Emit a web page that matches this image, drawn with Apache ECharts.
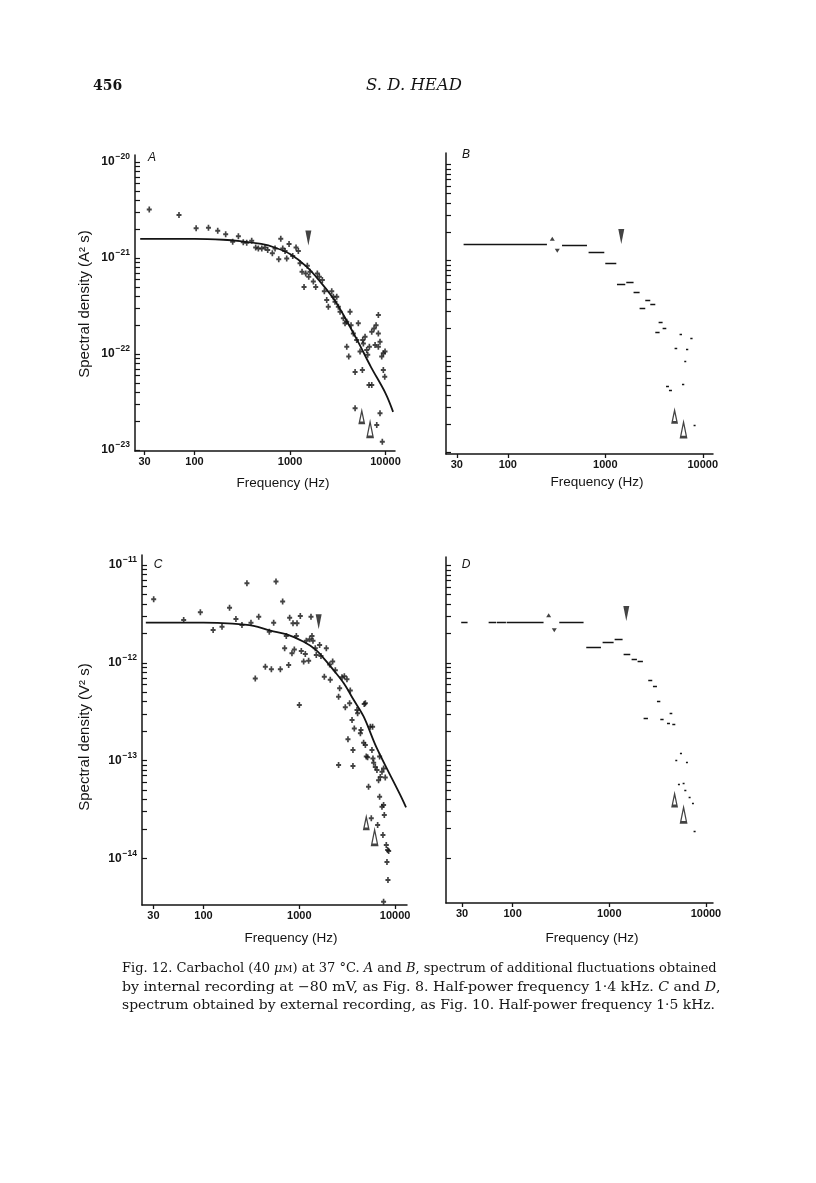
<!DOCTYPE html>
<html><head><meta charset="utf-8">
<script src="https://cdn.jsdelivr.net/npm/echarts@6/dist/echarts.min.js"></script>
<style>html,body{margin:0;padding:0;background:#fff}#c{width:816px;height:1183px}</style>
</head><body><div id="c"></div>
<script>
// ---------- tick / label values ----------
const xTickFreqs = [30, 100, 1000, 10000];
const yDecadesAB = [1e-23, 1e-22, 1e-21, 1e-20];
const yDecadesCD = [1e-14, 1e-13, 1e-12, 1e-11];
const minorMultipliers = [2, 3, 4, 5, 6, 7, 8, 9];

// ---------- Panel A (internal recording, A^2 s) ----------
const A_points = [
[33.6,3.21e-21],[68.8,2.81e-21],[104,2.04e-21],[140,2.07e-21],[175,1.92e-21],[212,1.77e-21],[288,1.69e-21],[251,1.48e-21],
[324,1.46e-21],[352,1.44e-21],[397,1.51e-21],[437,1.29e-21],[466,1.26e-21],[506,1.26e-21],[547,1.29e-21],[584,1.21e-21],
[653,1.12e-21],[697,1.26e-21],[762,9.7e-22],[800,1.59e-21],[839,1.26e-21],[887,1.18e-21],[923,9.9e-22],[977,1.40e-21],
[1067,1.05e-21],[1156,1.29e-21],[1222,1.18e-21],[1273,8.8e-22],[1336,7.2e-22],[1402,5.0e-22],[1460,6.9e-22],[1517,8.3e-22],
[1570,6.4e-22],[1619,7.2e-22],[1754,5.7e-22],[1858,5.0e-22],[1932,6.9e-22],[2028,6.4e-22],[2179,5.9e-22],[2287,4.5e-22],
[2422,3.65e-22],[2517,3.11e-22],[2733,4.5e-22],[2840,3.95e-22],[2958,3.5e-22],[3083,3.95e-22],[3205,3.11e-22],[3340,2.76e-22],
[3617,2.36e-22],[3767,2.09e-22],[3926,2.17e-22],[4249,2.76e-22],[4354,2.0e-22],[4603,1.64e-22],[4990,1.40e-22],[5188,2.09e-22],
[5408,1.06e-22],[5771,1.40e-22],[6102,1.51e-22],[6350,1.10e-22],[6510,9.8e-23],[6770,1.19e-22],[7170,1.71e-22],[7580,1.85e-22],
[7960,2.0e-22],[8410,2.55e-22],[7770,1.24e-22],[8410,1.19e-22],[8750,1.34e-22],[9120,9.4e-23],[9480,1.02e-22],[9880,1.06e-22],
[5720,6.8e-23],[4800,6.5e-23],[4800,2.72e-23],[6710,4.75e-23],[7170,4.75e-23],[9480,6.8e-23],[9810,5.8e-23],[8750,2.41e-23],
[8090,1.82e-23],[9250,1.22e-23],[3926,1.19e-22],[4120,9.4e-23],[5860,1.29e-22],[8410,1.64e-22]
];
const A_fit = [[27,1.58e-21],[100,1.58e-21],[200,1.55e-21],[300,1.5e-21],[500,1.4e-21],[700,1.28e-21],[1000,1.1e-21],
[1500,8.1e-22],[2000,5.9e-22],[3000,3.5e-22],[5000,1.42e-22],[7000,7.4e-23],[10000,3.9e-23],[12000,2.5e-23]];
const A_halfPower = [[1556,1.62e-21]];
const A_openArrows = [[5640,2.22e-23],[6890,1.64e-23]];

// ---------- Panel B (binned spectrum: [f from, f to, density]) ----------
const B_segments = [
[35.2,252,1.47e-21],[360,649,1.46e-21],[674,977,1.23e-21],[1000,1297,9.3e-22],[1318,1604,5.75e-22],[1642,1950,5.94e-22],
[1950,2249,4.68e-22],[2571,2894,3.83e-22],[2894,3259,3.54e-22],[2249,2571,3.21e-22],[3524,3873,2.28e-22],[3873,4226,1.99e-22],
[3259,3606,1.79e-22],[5780,6120,1.72e-22],[7450,7860,1.57e-22],[5140,5470,1.23e-22],[6730,7100,1.20e-22],[6460,6770,8.9e-23],
[4200,4500,4.9e-23],[4500,4830,4.45e-23],[6120,6460,5.2e-23],[8050,8440,1.92e-23]
];
const B_smallUp = [[286,1.69e-21]];
const B_smallDown = [[322,1.27e-21]];
const B_halfPower = [[1459,1.79e-21]];
const B_openArrows = [[5140,2.39e-23],[6350,1.74e-23]];

// ---------- Panel C (external recording, V^2 s) ----------
const C_points = [
[30.2,4.46e-12],[62.1,2.74e-12],[92.7,3.28e-12],[126,2.16e-12],[156,2.34e-12],[187,3.66e-12],[218,2.81e-12],[252,2.43e-12],
[284,6.49e-12],[313,2.57e-12],[347,6.9e-13],[377,2.96e-12],[442,9.1e-13],[486,2.08e-12],[511,8.6e-13],[540,2.57e-12],
[571,6.76e-12],[634,8.6e-13],[670,4.22e-12],[703,1.41e-12],[731,1.88e-12],[774,9.5e-13],[793,2.89e-12],[838,1.25e-12],
[887,1.37e-12],[859,2.53e-12],[946,2.53e-12],[931,1.88e-12],[1000,3.7e-13],[1024,3.01e-12],[1049,1.32e-12],[1110,1.03e-12],
[1155,1.23e-12],[1183,1.68e-12],[1251,1.05e-12],[1282,1.74e-12],[1324,2.96e-12],[1356,1.88e-12],[1389,1.68e-12],[1469,1.41e-12],
[1504,1.2e-12],[1629,1.52e-12],[1683,1.17e-12],[1914,1.41e-12],[1824,7.2e-13],[2074,9.6e-13],[2229,1.03e-12],[2104,6.7e-13],
[2377,8.4e-13],[2789,7.1e-13],[2951,7.3e-13],[3143,6.8e-13],[2636,5.5e-13],[3404,5.2e-13],[2570,4.5e-13],[3020,3.5e-13],
[3350,3.85e-13],[4000,3.29e-13],[4060,3.04e-13],[4760,3.79e-13],[4890,3.85e-13],[3550,2.6e-13],[3750,2.13e-13],[4400,2.05e-13],
[5510,2.22e-13],[5820,2.22e-13],[4340,1.9e-13],[3220,1.65e-13],[4690,1.52e-13],[4890,1.44e-13],[3630,1.28e-13],[2570,9.0e-14],
[3630,8.8e-14],[5000,1.1e-13],[5160,1.08e-13],[5730,1.28e-13],[5870,1.05e-13],[5280,5.4e-14],[5970,9.5e-14],[6210,8.6e-14],
[6460,8.0e-14],[6720,6.3e-14],[6890,1.1e-13],[7000,6.8e-14],[7290,7.7e-14],[7580,8.3e-14],[7890,6.7e-14],[6570,2.19e-14],
[5640,2.57e-14],[6890,4.27e-14],[7290,3.37e-14],[7580,3.51e-14],[7710,2.77e-14],[7460,1.73e-14],[8090,1.37e-14],[8350,1.22e-14],
[8560,1.19e-14],[8220,9.2e-15],[8420,6.0e-15],[7580,3.6e-15]
];
const C_fit = [[25,2.57e-12],[100,2.57e-12],[200,2.51e-12],[333,2.38e-12],[500,2.13e-12],[740,1.95e-12],[1110,1.64e-12],
[1470,1.37e-12],[1800,1.11e-12],[2280,8.4e-13],[2900,6.2e-13],[3700,4.16e-13],[4700,2.81e-13],[6460,1.33e-13],
[11300,4.45e-14],[13000,3.32e-14]];
const C_halfPower = [[1592,2.63e-12]];
const C_openArrows = [[5000,2.31e-14],[6110,1.64e-14]];

// ---------- Panel D (binned spectrum: [f from, f to, density]) ----------
const D_segments = [
[29.4,34.2,2.61e-12],[56.5,67.8,2.63e-12],[68.8,85.3,2.63e-12],[86.7,209,2.63e-12],[304,542,2.63e-12],[578,820,1.44e-12],
[853,1109,1.64e-12],[1136,1373,1.74e-12],[1407,1649,1.24e-12],[1702,1932,1.08e-12],[1963,2228,1.05e-12],[2530,2784,6.6e-13],
[2830,3113,5.8e-13],[3113,3373,4.0e-13],[2265,2512,2.74e-13],[3373,3648,2.66e-13],[3953,4245,2.40e-13],[4487,4820,2.35e-13],
[4210,4487,3.04e-13],[5380,5650,1.20e-13],[4820,5050,9.97e-14],[6210,6510,9.6e-14],[5130,5380,5.7e-14],[5740,6010,5.9e-14],
[5970,6270,4.9e-14],[6620,6940,4.2e-14],[7170,7510,3.65e-14],[7450,7820,1.87e-14]
];
const D_smallUp = [[236,3.08e-12]];
const D_smallDown = [[270,2.16e-12]];
const D_halfPower = [[1500,3.21e-12]];
const D_openArrows = [[4740,3.94e-14],[5870,2.77e-14]];

// ---------- texts ----------
const pageNumber = '456';
const runningHead = 'S. D. HEAD';
const panelLetters = ['A', 'B', 'C', 'D'];
const xTitle = 'Frequency (Hz)';
const yTitleA = 'Spectral density (A² s)';
const yTitleC = 'Spectral density (V² s)';
const captionLines = [
  'Fig. 12. Carbachol (40 {i|μ}{sc|M}) at 37 °C. {i|A} and {i|B}, spectrum of additional fluctuations obtained',
  'by internal recording at \u221280 mV, as Fig. 8. Half-power frequency 1·4 kHz. {i|C} and {i|D},',
  'spectrum obtained by external recording, as Fig. 10. Half-power frequency 1·5 kHz.'
];

// ---------- build ----------
const L = Math.log10;
const INK = '#141414';
const SANS = 'Liberation Sans, Arial, Helvetica, sans-serif';
const SERIF = 'DejaVu Serif, serif';
const PLUS = 'path://M2,0H4V2H6V4H4V6H2V4H0V2H2Z';

const pts = arr => arr.map(p => [L(p[0]), L(p[1])]);
const segs = arr => arr.map(s => ({coords: [[L(s[0]), L(s[2])], [L(s[1]), L(s[2])]]}));
function ticksFrom(decades) {
  const t = [];
  decades.forEach((d, i) => {
    t.push(L(d));
    if (i < decades.length - 1) minorMultipliers.forEach(m => t.push(L(d * m)));
  });
  return t;
}

const panels = [
  {grid: {left: 135, top: 155, width: 260, height: 296}, x: [1.377, 4.099], y: [-23.01, -19.927], dec: yDecadesAB, labels: true},
  {grid: {left: 446, top: 153, width: 267, height: 301}, x: [1.366, 4.105], y: [-23.014, -19.878], dec: yDecadesAB, labels: false},
  {grid: {left: 142, top: 555, width: 265, height: 350}, x: [1.358, 4.124], y: [-14.477, -10.898], dec: yDecadesCD, labels: true},
  {grid: {left: 446, top: 557, width: 267, height: 346}, x: [1.311, 4.073], y: [-14.46, -10.915], dec: yDecadesCD, labels: false}
];

const grids = panels.map(p => Object.assign({containLabel: false}, p.grid));
const xAxes = panels.map((p, i) => ({
  type: 'value', gridIndex: i, min: p.x[0], max: p.x[1],
  axisLine: {onZero: false, lineStyle: {color: INK, width: 1.5}},
  axisTick: {customValues: xTickFreqs.map(L), length: 4, lineStyle: {color: INK, width: 1.3}},
  axisLabel: {customValues: xTickFreqs.map(L), formatter: v => String(Math.round(Math.pow(10, v))),
    color: INK, fontFamily: SANS, fontSize: 11, fontWeight: 'bold', margin: 5},
  splitLine: {show: false}
}));
const yAxes = panels.map((p, i) => ({
  type: 'value', gridIndex: i, min: p.y[0], max: p.y[1],
  axisLine: {onZero: false, lineStyle: {color: INK, width: 1.5}},
  axisTick: {inside: true, length: 5, customValues: ticksFrom(p.dec), lineStyle: {color: INK, width: 1.2}},
  axisLabel: {show: p.labels, customValues: p.dec.map(L), margin: 5,
    formatter: v => '{b|10}{s|\u2212' + Math.round(-v) + '}',
    rich: {
      b: {fontFamily: SANS, fontSize: 12, fontWeight: 'bold', color: INK},
      s: {fontFamily: SANS, fontSize: 8.5, fontWeight: 'bold', color: INK, padding: [0, 0, 10, 1]}
    }},
  splitLine: {show: false}
}));

const series = [];
function addPointPanel(i, points, fit, half, open) {
  series.push({type: 'scatter', xAxisIndex: i, yAxisIndex: i, data: pts(points), symbol: PLUS, symbolSize: [5, 6],
    itemStyle: {color: INK}, z: 3, silent: true});
  series.push({type: 'line', xAxisIndex: i, yAxisIndex: i, data: pts(fit), smooth: 0.35, symbol: 'none',
    lineStyle: {color: INK, width: 1.8}, z: 2, silent: true});
  addArrows(i, half, open);
}
function addArrows(i, half, open) {
  series.push({type: 'scatter', xAxisIndex: i, yAxisIndex: i, data: pts(half), symbol: 'triangle', symbolRotate: 180,
    symbolSize: [6, 15], itemStyle: {color: INK}, z: 4, silent: true});
  series.push({type: 'scatter', xAxisIndex: i, yAxisIndex: i, data: pts(open), symbol: 'triangle',
    symbolSize: (v, p) => p.dataIndex === 0 ? [5, 12] : [6, 15],
    itemStyle: {color: '#fff', borderColor: INK, borderWidth: 1.8}, z: 4, silent: true});
}
function addBinPanel(i, segments, up, down, half, open) {
  series.push({type: 'lines', coordinateSystem: 'cartesian2d', xAxisIndex: i, yAxisIndex: i, data: segs(segments),
    lineStyle: {color: INK, width: 1.4, opacity: 1}, z: 2, silent: true});
  series.push({type: 'scatter', xAxisIndex: i, yAxisIndex: i, data: pts(up), symbol: 'triangle', symbolSize: [5, 4],
    itemStyle: {color: INK}, z: 4, silent: true});
  series.push({type: 'scatter', xAxisIndex: i, yAxisIndex: i, data: pts(down), symbol: 'triangle', symbolRotate: 180,
    symbolSize: [5, 4], itemStyle: {color: INK}, z: 4, silent: true});
  addArrows(i, half, open);
}
addPointPanel(0, A_points, A_fit, A_halfPower, A_openArrows);
addBinPanel(1, B_segments, B_smallUp, B_smallDown, B_halfPower, B_openArrows);
addPointPanel(2, C_points, C_fit, C_halfPower, C_openArrows);
addBinPanel(3, D_segments, D_smallUp, D_smallDown, D_halfPower, D_openArrows);

function txt(x, y, text, font, align, extra) {
  return Object.assign({type: 'text', x: x, y: y, silent: true,
    style: {text: text, font: font, fill: INK, align: align || 'center', verticalAlign: 'middle',
      textAlign: align || 'center', textVerticalAlign: 'middle'}}, extra || {});
}
const TITLE_FONT = '13.5px ' + SANS;
const LETTER_FONT = 'italic 12px ' + SANS;
const CAP_SIZE = 13.1;
const graphic = [
  txt(93, 86, pageNumber, 'bold 14px ' + SERIF, 'left'),
  txt(414, 86, runningHead, 'italic 16.5px ' + SERIF, 'center'),
  txt(152, 158, panelLetters[0], LETTER_FONT),
  txt(466, 155, panelLetters[1], LETTER_FONT),
  txt(158, 565, panelLetters[2], LETTER_FONT),
  txt(466, 565, panelLetters[3], LETTER_FONT),
  txt(283, 483, xTitle, TITLE_FONT),
  txt(597, 482, xTitle, TITLE_FONT),
  txt(291, 938, xTitle, TITLE_FONT),
  txt(592, 938, xTitle, TITLE_FONT),
  txt(85, 304, yTitleA, '15px ' + SANS, 'center', {rotation: Math.PI / 2}),
  txt(85, 737, yTitleC, '15px ' + SANS, 'center', {rotation: Math.PI / 2})
];
// justified caption: stretch each line to the column width
const captionWidths = [598, 598, 593];
const measureCtx = document.createElement('canvas').getContext('2d');
measureCtx.font = CAP_SIZE + 'px ' + SERIF;
captionLines.forEach((line, k) => {
  const plain = line.replace(/\{\w+\|([^}]*)\}/g, '$1');
  const w = measureCtx.measureText(plain).width || captionWidths[k];
  const sx = Math.max(0.9, Math.min(1.12, captionWidths[k] / w));
  graphic.push({type: 'text', x: 122, y: 969 + k * 18.4, scaleX: sx, silent: true,
    style: {text: line, fontFamily: SERIF, fontSize: CAP_SIZE, fill: INK, align: 'left', verticalAlign: 'middle',
      textAlign: 'left', textVerticalAlign: 'middle',
      rich: {
        i: {fontFamily: SERIF, fontSize: CAP_SIZE, fontStyle: 'italic', fill: INK},
        sc: {fontFamily: SERIF, fontSize: CAP_SIZE * 0.75, fill: INK}
      }}});
});

const chart = echarts.init(document.getElementById('c'), null, {renderer: 'canvas', width: 816, height: 1183});
chart.setOption({
  backgroundColor: '#ffffff',
  animation: false,
  grid: grids,
  xAxis: xAxes,
  yAxis: yAxes,
  series: series,
  graphic: graphic
});
</script>
</body></html>
